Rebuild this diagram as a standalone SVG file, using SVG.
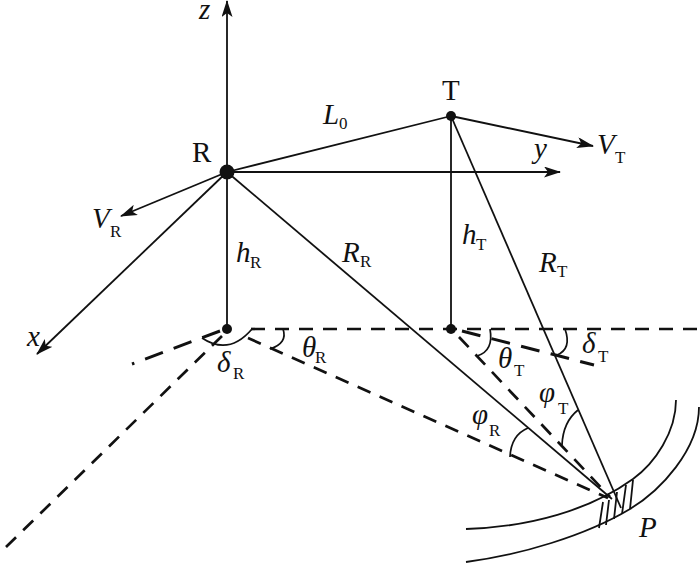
<svg xmlns="http://www.w3.org/2000/svg" width="700" height="565" viewBox="0 0 700 565">
<style>
.l{stroke:#111;stroke-width:1.8;fill:none}
.d{stroke:#111;stroke-width:2.7;fill:none;stroke-dasharray:14 10}
.t{stroke:#111;stroke-width:3;fill:none;stroke-dasharray:19 11.5}
.a{stroke:#111;stroke-width:1.7;fill:none}
.i{font-family:"Liberation Serif",serif;font-style:italic;font-size:29px;fill:#111}
.g{font-family:"Liberation Serif","DejaVu Serif",serif;font-style:italic;font-size:29px;fill:#111}
.r{font-family:"Liberation Serif",serif;font-size:29px;fill:#111}
.s{font-family:"Liberation Serif",serif;font-size:17px;fill:#111}
</style>
<defs><marker id="ah" markerWidth="17" markerHeight="11" refX="16" refY="5.5" orient="auto" markerUnits="userSpaceOnUse"><path d="M0 0L17 5.5L0 11L4 5.5Z" fill="#111"/></marker></defs>
<g id="connectors">
<path class="l" marker-end="url(#ah)" d="M227 330V1"/>
<path class="l" marker-end="url(#ah)" d="M227 172H560"/>
<path class="l" marker-end="url(#ah)" d="M227 172L37 354"/>
<path class="l" marker-end="url(#ah)" d="M227 172L121 216"/>
<path class="l" marker-end="url(#ah)" d="M451 116L593 146"/>
<path class="l" d="M227 172L451 116"/>
<path class="l" d="M451 116V329"/>
<path class="l" d="M227 172L612 499"/>
<path class="l" d="M451 116L621 508"/>
<path class="d" d="M251 329H700"/>
<path class="t" d="M220 331L132 364"/>
<path class="d" d="M222 336L3 550"/>
<path class="d" d="M248 338L608 498"/>
<path class="d" d="M459 337L610 497"/>
<path class="t" d="M462 331L594 365"/>
<path class="l" d="M466 529C530 527 590 510 633 479C655 463 676 432 676 400"/>
<path class="l" d="M466 562C520 555 585 536 630 509C660 491 699 450 699 407"/>
<path class="l" d="M599 528L603 502M606 525L609 500M614 519L617 492M622 514L626 485M630 509L633 480"/>
<path class="a" d="M202 338Q229 356 252 329"/>
<path class="a" d="M270 349Q288 343 283 329"/>
<path class="a" d="M477 356Q494 351 490 329"/>
<path class="a" d="M557 355Q572 349 565 329"/>
<path class="a" d="M510 457Q511 435 528 428"/>
<path class="a" d="M562 445Q563 422 578 410"/>
</g>
<g id="node-R"><circle cx="227" cy="172" r="7.5" fill="#111"/><text class="r" x="192" y="162">R</text></g>
<g id="node-T"><circle cx="451" cy="116" r="5" fill="#111"/><text class="r" x="442" y="100">T</text></g>
<g id="node-O1"><circle cx="227" cy="329" r="5" fill="#111"/></g>
<g id="node-O2"><circle cx="451" cy="329" r="5" fill="#111"/></g>
<g id="labels">
<text class="i" x="199" y="19">z</text>
<text class="i" x="534" y="158">y</text>
<text class="i" x="27" y="346">x</text>
<text class="i" x="323" y="124">L</text><text class="s" x="339" y="129">0</text>
<text class="i" x="597" y="154">V</text><text class="s" x="615" y="163">T</text>
<text class="i" x="92" y="228">V</text><text class="s" x="110" y="237">R</text>
<text class="i" x="236" y="262">h</text><text class="s" x="250" y="268">R</text>
<text class="i" x="462" y="244">h</text><text class="s" x="476" y="250">T</text>
<text class="i" x="342" y="262">R</text><text class="s" x="360" y="267">R</text>
<text class="i" x="539" y="272">R</text><text class="s" x="557" y="277">T</text>
<text class="g" x="217" y="372">δ</text><text class="s" x="233" y="379">R</text>
<text class="g" x="302" y="357">θ</text><text class="s" x="315" y="363">R</text>
<text class="g" x="498" y="368">θ</text><text class="s" x="514" y="376">T</text>
<text class="g" x="582" y="353">δ</text><text class="s" x="598" y="362">T</text>
<text class="g" x="539" y="402">φ</text><text class="s" x="558" y="414">T</text>
<text class="g" x="472" y="424">φ</text><text class="s" x="489" y="436">R</text>
<text class="i" x="639" y="537">P</text>
</g>
</svg>
